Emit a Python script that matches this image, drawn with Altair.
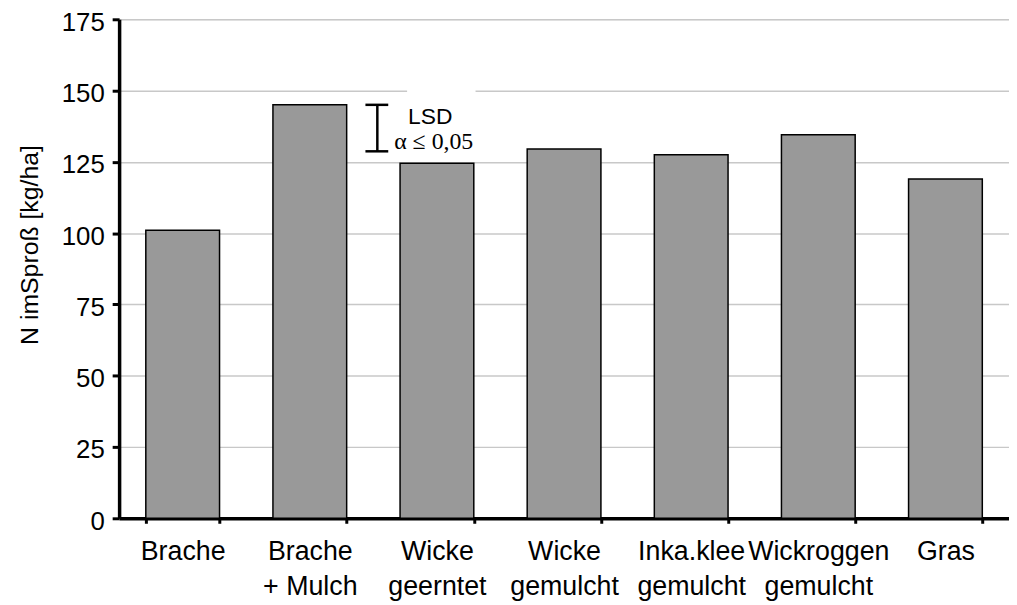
import altair as alt
import pandas as pd

# ---- data ----
categories = [
    "Brache",
    "Brache|+ Mulch",
    "Wicke|geerntet",
    "Wicke|gemulcht",
    "Inka.klee|gemulcht",
    "Wickroggen|gemulcht",
    "Gras",
]
values = [101.0, 145.0, 124.5, 129.5, 127.5, 134.5, 119.0]
y_ticks = [0, 25, 50, 75, 100, 125, 150, 175]
lsd_top = [145.0]
lsd_value = [16.3]
lsd_labels = ["LSD", "\u03b1 \u2264 0,05"]

df = pd.DataFrame({"cat": categories, "val": values})
lsd_df = pd.DataFrame({
    "top": lsd_top,
    "bottom": [t - v for t, v in zip(lsd_top, lsd_value)],
    "mid": [t - v / 2 for t, v in zip(lsd_top, lsd_value)],
    "lab1": [lsd_labels[0]],
    "lab2": [lsd_labels[1]],
})

W, H = 897, 503
SANS = "Liberation Sans"
SERIF = "Liberation Serif"

xscale = alt.Scale(domain=categories, paddingInner=0.42, paddingOuter=0.21)
yscale = alt.Scale(domain=[0, 175], nice=False)

x_enc = alt.X(
    "cat:N", sort=categories, scale=xscale,
    axis=alt.Axis(
        title=None, labelExpr="split(datum.label, '|')", tickBand="extent",
        labelAngle=0, labelFont=SANS, labelFontSize=27, labelLineHeight=35,
        labelColor="black", labelPadding=16, labelOverlap=False,
        tickSize=5, tickWidth=3, tickColor="black",
        domainColor="black", domainWidth=3.5, grid=False,
    ),
)
y_enc = alt.Y(
    "val:Q", scale=yscale,
    axis=alt.Axis(
        values=y_ticks, title="N imSproß [kg/ha]", titleFont=SANS,
        titleFontSize=25, titleFontWeight="normal", titleColor="black",
        titleX=-82, titleY=227, titleBaseline="alphabetic", titleAlign="center",
        labelFont=SANS, labelFontSize=26, labelColor="black", labelPadding=8,
        labelOffset=3,
        tickSize=7, tickWidth=3, tickColor="black",
        domainColor="black", domainWidth=3.5,
        grid=True, gridColor="#c8c8c8", gridWidth=1.5,
    ),
)

bars = alt.Chart(df).mark_bar(
    color="#999999", stroke="black", strokeWidth=1.5
).encode(x=x_enc, y=y_enc)

# LSD annotation (x placed relative to the plot, y via the value scale)
bx = 2 * W / 7 + 4
box = alt.Chart(lsd_df).mark_rect(color="white").encode(
    x=alt.value(bx + 30), x2=alt.value(bx + 99),
    y=alt.value(63), y2=alt.value(134),
)
stem = alt.Chart(lsd_df).mark_rule(color="black", strokeWidth=2.5).encode(
    x=alt.value(bx),
    y=alt.Y("top:Q", scale=yscale), y2="bottom:Q",
)
cap_top = alt.Chart(lsd_df).mark_rule(color="black", strokeWidth=2.5).encode(
    x=alt.value(bx - 12), x2=alt.value(bx + 11),
    y=alt.Y("top:Q", scale=yscale),
)
cap_bot = alt.Chart(lsd_df).mark_rule(color="black", strokeWidth=2.5).encode(
    x=alt.value(bx - 12), x2=alt.value(bx + 11),
    y=alt.Y("bottom:Q", scale=yscale),
)
t1 = alt.Chart(lsd_df).mark_text(
    font=SANS, fontSize=23, color="black", align="left",
    baseline="alphabetic", dy=-4,
).encode(x=alt.value(bx + 31), y=alt.Y("mid:Q", scale=yscale), text="lab1:N")
t2 = alt.Chart(lsd_df).mark_text(
    font=SERIF, fontSize=24, color="black", align="left",
    baseline="alphabetic", dy=21.5,
).encode(x=alt.value(bx + 17), y=alt.Y("mid:Q", scale=yscale), text="lab2:N")

chart = alt.layer(bars, box, stem, cap_top, cap_bot, t1, t2).properties(
    width=W, height=H, autosize="none",
    padding={"left": 112, "top": 9, "right": 0, "bottom": 84},
).configure_view(strokeWidth=0).configure(background="white")

chart.save("out.html", embed_options={"renderer": "svg", "actions": False})
